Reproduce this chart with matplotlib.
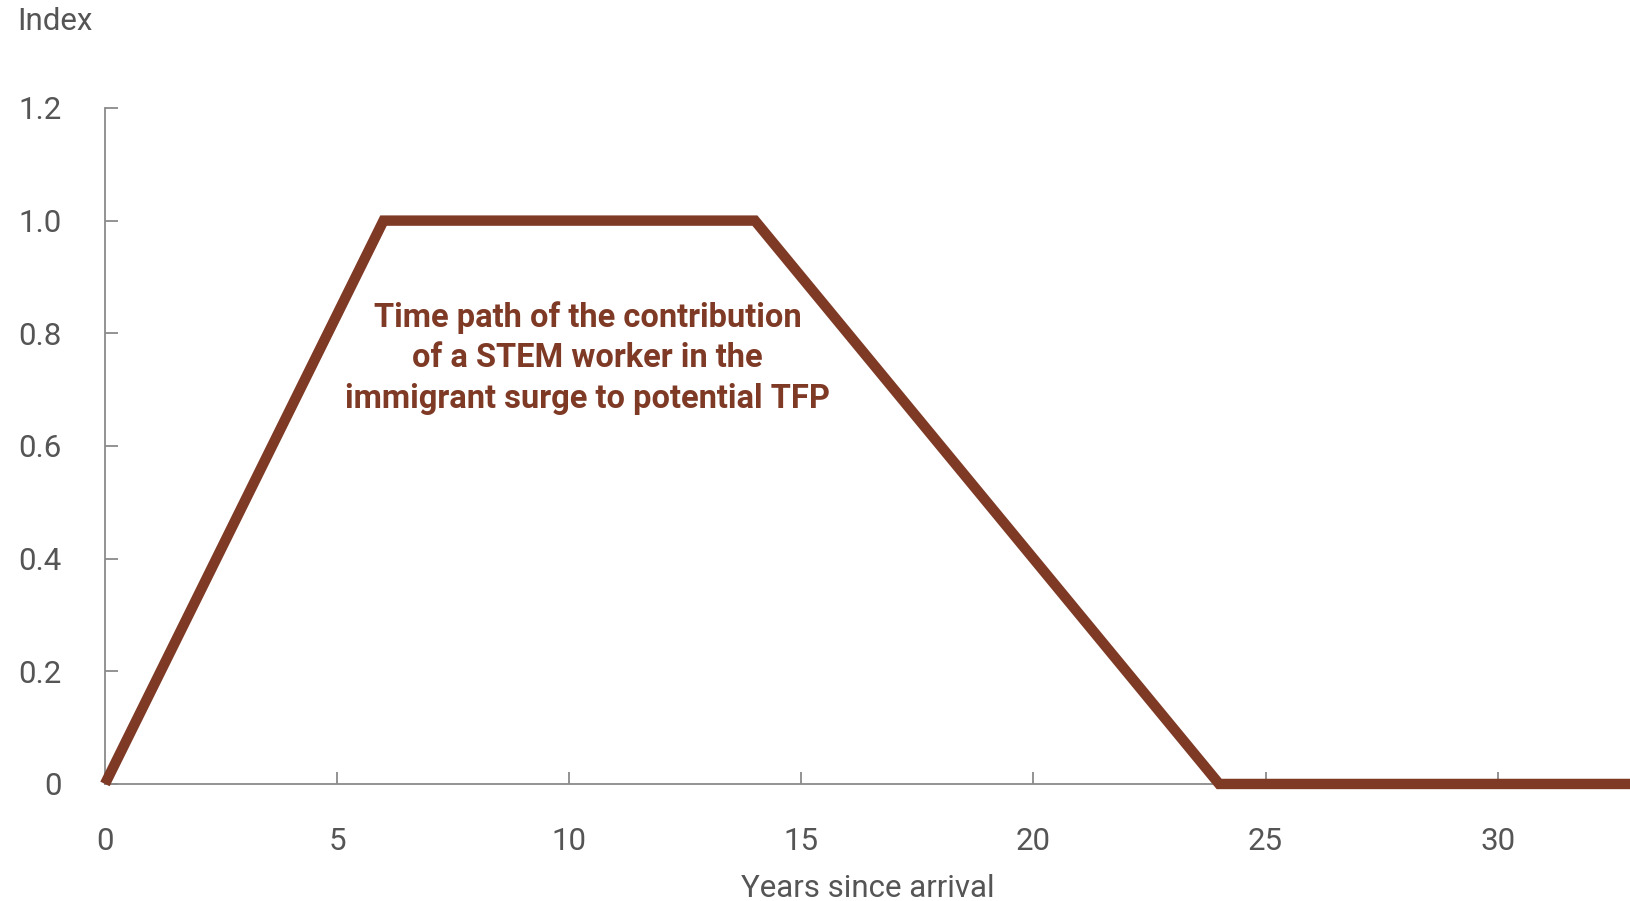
import numpy as np
from matplotlib import pyplot as plt

# contribution profile of one STEM worker, years since arrival -> index
years = [0, 6, 14, 24, 33]
index_values = [0, 1.0, 1.0, 0, 0]
x_ticks = [0, 5, 10, 15, 20, 25, 30]
y_ticks = [0, 0.2, 0.4, 0.6, 0.8, 1.0, 1.2]
y_tick_labels = ['0', '0.2', '0.4', '0.6', '0.8', '1.0', '1.2']

brown = '#7f3a26'
grey = '#555555'
plt.rcParams['font.family'] = ['Roboto', 'DejaVu Sans']

fig = plt.figure(figsize=(16.3, 9.01), dpi=100)
ax = fig.add_axes([0.0644, 0.1299, 0.9356, 0.7503])

ax.plot(years, index_values, color=brown, linewidth=7.5, solid_joinstyle='miter',
        solid_capstyle='butt', clip_on=False, zorder=3)

ax.set_xlim(0, 32.85)
ax.set_ylim(0, 1.2)
ax.set_xticks(x_ticks)
ax.set_yticks(y_ticks)
ax.set_yticklabels(y_tick_labels)

for side in ['top', 'right']:
    ax.spines[side].set_visible(False)
for side in ['left', 'bottom']:
    ax.spines[side].set_color('#8a8a8a')
    ax.spines[side].set_linewidth(1.3)

ax.tick_params(axis='both', direction='in', length=9, width=1.3, color='#8a8a8a',
               labelsize=22.5, labelcolor=grey)
ax.tick_params(axis='x', pad=31)
ax.tick_params(axis='y', pad=31)

ax.set_xlabel('Years since arrival', fontsize=22.5, color=grey, labelpad=13)
fig.text(0.0105, 0.976, 'Index', fontsize=22.5, color=grey, ha='left', va='center')

ax.text(10.4, 0.756, 'Time path of the contribution\nof a STEM worker in the\nimmigrant surge to potential TFP',
        ha='center', va='center', fontsize=23.5, fontweight='bold', color=brown,
        linespacing=1.33)

fig.savefig('out.png', dpi=100)
